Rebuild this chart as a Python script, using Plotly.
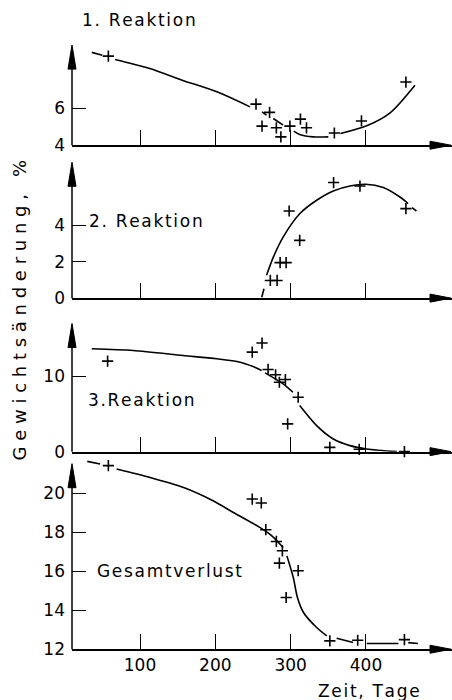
import plotly.graph_objects as go
from plotly.subplots import make_subplots

W, H = 452, 700

# --- data (days, weight change in %) ---
r1_days = [58, 254, 272, 262, 281, 287, 299, 313, 321, 358, 394, 453]
r1_vals = [8.81, 6.22, 5.77, 5.03, 4.94, 4.45, 5.03, 5.41, 4.94, 4.66, 5.31, 7.41]
r1_curve_days = [36, 50, None, 67, 113, 156, 202, 246, None, 262, 268, None,
                 277, 290, None, 304, 312, 330, 350, None, 366, 401, 432, 465]
r1_curve_vals = [9.01, 8.85, None, 8.63, 8.14, 7.51, 6.88, 6.07, None, 5.80, 5.62, None,
                 5.44, 5.08, None, 4.76, 4.58, 4.45, 4.45, None, 4.63, 5.05, 5.75, 7.24]

r2_days = [273, 282, 286, 294, 298, 312, 357, 392, 453]
r2_vals = [0.97, 0.97, 1.95, 1.95, 4.78, 3.17, 6.34, 6.15, 4.91]
r2_curve_days = [261.6, 264.6, None, 268, 277, 290, 312, 334.5, 356.6, 378.8, 399.6,
                 423, 445, 456, None, 461, 467]
r2_curve_vals = [0.05, 0.51, None, 1.25, 2.25, 3.35, 4.63, 5.37, 5.88, 6.15, 6.25,
                 6.07, 5.55, 5.19, None, 4.97, 4.78]

r3_days = [57, 249, 262, 270, 280, 285, 293, 296, 310, 352, 391, 451]
r3_vals = [12.0, 13.2, 14.4, 10.9, 10.2, 9.2, 9.56, 3.68, 7.21, 0.57, 0.31, 0.0]
r3_curve_days = [36, 91, 157, 202, 233, 250, 261.5, None, 266, 290, 303, None,
                 312, 334.5, 356.6, 378.8, 401, 441]
r3_curve_vals = [13.64, 13.41, 12.75, 12.31, 11.86, 11.29, 10.76, None, 10.45, 8.99, 7.88, None,
                 6.11, 3.45, 1.68, 0.80, 0.36, 0.0]

tot_days = [58, 249, 261, 267, 281, 289, 285, 310, 294, 352, 389, 451]
tot_vals = [21.4, 19.69, 19.49, 18.12, 17.52, 17.04, 16.41, 16.02, 14.65, 12.43, 12.46, 12.49]
tot_curve_days = [30, 47, None, 69, 113, 157, 197, 224, 259, 275, 290, None,
                  295, 303.5, 309, 317, 334.5, 348, None, 361, 383, None,
                  401, 443, None, 456, 469]
tot_curve_vals = [21.62, 21.49, None, 21.23, 20.80, 20.29, 19.60, 19.0, 18.24, 17.81, 17.21, None,
                  16.78, 15.67, 14.65, 13.88, 13.11, 12.68, None, 12.56, 12.34, None,
                  12.29, 12.29, None, 12.34, 12.29]

panel_labels = ["1. Reaktion", "2. Reaktion", "3.Reaktion", "Gesamtverlust"]
y_ticks = [[4, 6], [0, 2, 4], [0, 10], [12, 14, 16, 18, 20]]
x_ticks = [100, 200, 300, 400]

series = [(r1_days, r1_vals, r1_curve_days, r1_curve_vals),
          (r2_days, r2_vals, r2_curve_days, r2_curve_vals),
          (r3_days, r3_vals, r3_curve_days, r3_curve_vals),
          (tot_days, tot_vals, tot_curve_days, tot_curve_vals)]

# panel geometry in pixels: baseline y, domain top y, base value, px per unit, arrow tip y
panels = [(145, 30, 4, 18.5, 45),
          (297.7, 160, 0, 18.2, 162),
          (451, 310, 0, 7.53, 323),
          (648.3, 455, 12, 19.5, 463)]

X0 = 72
px_per_day = 0.7533
x_zero = 64.67
x_range = [(X0 - x_zero) / px_per_day, (W - x_zero) / px_per_day]

FIG_H = 711  # the snapshot squeezes height slightly; pixel map below stays in 700-px units


def fx(p):
    return p / W


def fy(p):
    return 1 - p / H


def spaced(s):
    return "\u200a".join(s)


FONT = "DejaVu Sans"
fig = make_subplots(rows=4, cols=1)

shapes = []
for i, ((d, v, cd, cv), (base_px, top_px, base_v, ppu, tip)) in enumerate(zip(series, panels)):
    r = i + 1
    fig.add_trace(go.Scatter(x=cd, y=cv, mode="lines", connectgaps=False,
                             line=dict(color="black", width=1.6, shape="spline", smoothing=0.8),
                             hoverinfo="skip", showlegend=False), row=r, col=1)
    fig.add_trace(go.Scatter(x=d, y=v, mode="markers", cliponaxis=False,
                             marker=dict(symbol="cross-thin", size=8,
                                         line=dict(color="black", width=1.6)),
                             showlegend=False), row=r, col=1)
    top_v = base_v + (base_px - top_px) / ppu
    fig.update_yaxes(row=r, col=1, domain=[fy(base_px), fy(top_px)], range=[base_v, top_v],
                     tickvals=y_ticks[i], ticks="inside", ticklen=14, tickwidth=1.2,
                     tickcolor="black", showgrid=False, zeroline=False, showline=False,
                     ticklabelstandoff=6,
                     tickfont=dict(family=FONT, size=17, color="black"))
    fig.update_xaxes(row=r, col=1, domain=[fx(X0), 1], range=x_range,
                     tickvals=x_ticks, ticks="inside", ticklen=15, tickwidth=1.2,
                     tickcolor="black", showgrid=False, zeroline=False,
                     showline=True, linecolor="black", linewidth=1.5,
                     showticklabels=(r == 4),
                     tickfont=dict(family=FONT, size=17, color="black"))
    # y axis line + arrow
    shapes.append(dict(type="line", xref="paper", yref="paper",
                       x0=fx(X0), x1=fx(X0), y0=fy(base_px), y1=fy(tip + 20),
                       line=dict(color="black", width=1.5)))
    shapes.append(dict(type="path", xref="paper", yref="paper",
                       path=f"M {fx(X0 - 4)} {fy(tip + 24)} L {fx(X0)} {fy(tip)} "
                            f"L {fx(X0 + 4)} {fy(tip + 24)} Z",
                       fillcolor="black", line=dict(color="black", width=1)))
    # x arrow
    shapes.append(dict(type="path", xref="paper", yref="paper",
                       path=f"M {fx(430)} {fy(base_px - 4)} L {fx(451)} {fy(base_px)} "
                            f"L {fx(430)} {fy(base_px + 4)} Z",
                       fillcolor="black", line=dict(color="black", width=1)))

label_pos = [(139, 20), (146, 221), (141, 399.5), (169, 570.5)]
annotations = []
for text, (lx, ly) in zip(panel_labels, label_pos):
    annotations.append(dict(text=spaced(text), x=fx(lx), y=fy(ly), xref="paper", yref="paper",
                            showarrow=False, xanchor="center", yanchor="middle",
                            font=dict(family=FONT, size=17, color="black")))
annotations.append(dict(text=spaced("Zeit, Tage"), x=fx(369), y=fy(690), xref="paper",
                        yref="paper", showarrow=False, xanchor="center", yanchor="middle",
                        font=dict(family=FONT, size=17, color="black")))
annotations.append(dict(text=" ".join("Gewichtsänderung,") + "   %", x=fx(19), y=fy(310),
                        xref="paper", yref="paper", showarrow=False, textangle=-90,
                        xanchor="center", yanchor="middle",
                        font=dict(family=FONT, size=18, color="black")))

fig.update_layout(width=W, height=FIG_H, margin=dict(l=0, r=0, t=0, b=0),
                  paper_bgcolor="white", plot_bgcolor="rgba(0,0,0,0)",
                  shapes=shapes, annotations=annotations, showlegend=False)

pin = ("document.body.style.margin = '0';"
       "var gd = document.getElementById('{plot_id}');"
       "gd.style.position = 'fixed'; gd.style.left = '0'; gd.style.top = '0';")
fig.write_html("out.html", config={"displayModeBar": False}, post_script=pin)
